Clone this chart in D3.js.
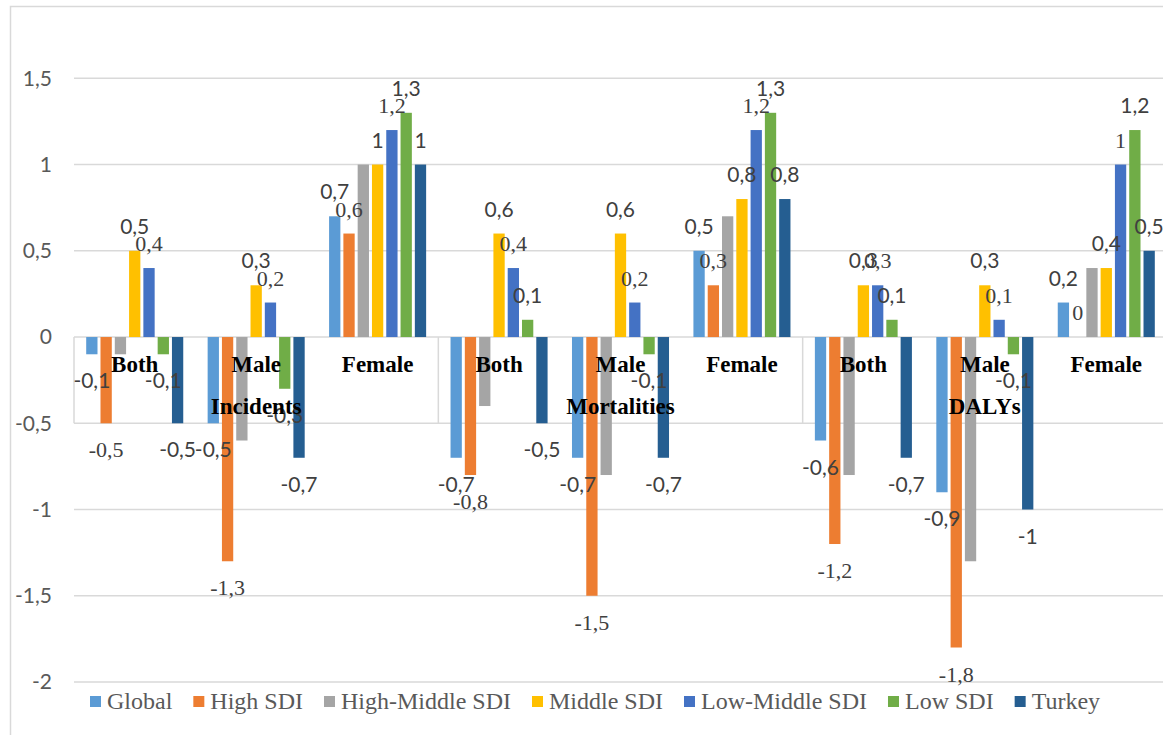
<!DOCTYPE html>
<html>
<head>
<meta charset="utf-8">
<script src="https://cdn.jsdelivr.net/npm/d3@7"></script>
<style>
  body { margin: 0; background: #ffffff; }
  svg { display: block; }
</style>
</head>
<body>
<svg id="chart" width="1163" height="735"></svg>
<script>
// Outer grouping and inner categories of the x axis
const measures = ["Incidents", "Mortalities", "DALYs"];
const sexes = ["Both", "Male", "Female"];

// Series, in legend order
const seriesNames = ["Global", "High SDI", "High-Middle SDI", "Middle SDI", "Low-Middle SDI", "Low SDI", "Turkey"];
const seriesColors = ["#5b9bd5", "#ed7d31", "#a5a5a5", "#ffc000", "#4472c4", "#70ad47", "#255e91"];

// Values per category: Incidents (Both, Male, Female), Mortalities (...), DALYs (...)
const globalValues       = [-0.1, -0.5, 0.7, -0.7, -0.7, 0.5, -0.6, -0.9, 0.2];
const highSDIValues      = [-0.5, -1.3, 0.6, -0.8, -1.5, 0.3, -1.2, -1.8, 0];
const highMiddleValues   = [-0.1, -0.6, 1.0, -0.4, -0.8, 0.7, -0.8, -1.3, 0.4];
const middleSDIValues    = [0.5, 0.3, 1.0, 0.6, 0.6, 0.8, 0.3, 0.3, 0.4];
const lowMiddleValues    = [0.4, 0.2, 1.2, 0.4, 0.2, 1.2, 0.3, 0.1, 1.0];
const lowSDIValues       = [-0.1, -0.3, 1.3, 0.1, -0.1, 1.3, 0.1, -0.1, 1.2];
const turkeyValues       = [-0.5, -0.7, 1.0, -0.5, -0.7, 0.8, -0.7, -1.0, 0.5];

const yTicks = [-2, -1.5, -1, -0.5, 0, 0.5, 1, 1.5];

// Series whose bars carry a value label, and the typeface each label uses
const labelled   = [true, true, false, true, true, true, true];
const labelSerif = [false, true, false, false, true, false, false];

const seriesValues = [globalValues, highSDIValues, highMiddleValues, middleSDIValues,
                      lowMiddleValues, lowSDIValues, turkeyValues];

const categories = [];
measures.forEach(m => sexes.forEach(s => categories.push({ key: m + "|" + s, measure: m, sex: s })));

const rows = categories.map((c, i) => ({
  key: c.key,
  values: seriesNames.map((name, j) => ({ name, j, value: seriesValues[j][i] }))
}));

const svg = d3.select("#chart");
const sansFont = "Lato, 'Open Sans', sans-serif";
const serifFont = "'Liberation Serif', 'Times New Roman', serif";
const gridColor = "#d9d9d9";
const fmt = v => String(+v.toFixed(2)).replace(".", ",");

// Chart border
svg.append("rect")
  .attr("x", 10.5).attr("y", 6.5)
  .attr("width", 1200).attr("height", 800)
  .attr("fill", "none").attr("stroke", gridColor).attr("stroke-width", 1.5);

const x0 = d3.scaleBand().domain(categories.map(c => c.key)).range([74, 1167]);
const x1 = d3.scaleBand().domain(seriesNames)
  .range([12.2, x0.bandwidth() - 12.2]).paddingInner(0.21);
const y = d3.scaleLinear().domain([-2, 1.5]).range([682, 78.3]);

// Horizontal gridlines
svg.append("g").selectAll("line").data(yTicks).join("line")
  .attr("x1", 74).attr("x2", 1167)
  .attr("y1", d => y(d)).attr("y2", d => y(d))
  .attr("stroke", gridColor).attr("stroke-width", 1.5);

// Y axis tick labels
const yAxis = d3.axisLeft(y).tickValues(yTicks).tickSize(0).tickPadding(0).tickFormat(fmt);
const yg = svg.append("g").attr("transform", "translate(52,0)").call(yAxis);
yg.select(".domain").remove();
yg.selectAll("text")
  .attr("font-family", sansFont).attr("font-size", 21).attr("fill", "#595959");

// Group separators of the multi-level category axis
const groupEdges = [0, 3, 6, 9].map(i => i < 9 ? x0(categories[i].key) : x0(categories[8].key) + x0.bandwidth());
svg.append("g").selectAll("line").data(groupEdges).join("line")
  .attr("x1", d => d).attr("x2", d => d)
  .attr("y1", y(0)).attr("y2", y(-0.5))
  .attr("stroke", gridColor).attr("stroke-width", 1.5);

// Bars
const groups = svg.append("g").selectAll("g").data(rows).join("g")
  .attr("transform", d => `translate(${x0(d.key)},0)`);

groups.selectAll("rect").data(d => d.values).join("rect")
  .attr("x", d => x1(d.name))
  .attr("width", x1.bandwidth())
  .attr("y", d => y(Math.max(0, d.value)))
  .attr("height", d => Math.abs(y(d.value) - y(0)))
  .attr("fill", d => seriesColors[d.j]);

// Value labels
groups.selectAll("text.value").data(d => d.values.filter(v => labelled[v.j])).join("text")
  .attr("class", "value")
  .attr("x", d => x1(d.name) + x1.bandwidth() / 2)
  .attr("y", d => d.value >= 0 ? y(d.value) - 17 : y(d.value) + 34)
  .attr("text-anchor", "middle")
  .attr("font-family", d => labelSerif[d.j] ? serifFont : sansFont)
  .attr("font-size", d => labelSerif[d.j] ? 22 : 21)
  .attr("fill", "#404040")
  .text(d => fmt(d.value));

// Inner category labels
svg.append("g").selectAll("text").data(categories).join("text")
  .attr("x", d => x0(d.key) + x0.bandwidth() / 2)
  .attr("y", 372)
  .attr("text-anchor", "middle")
  .attr("font-family", serifFont).attr("font-weight", "bold").attr("font-size", 23)
  .attr("fill", "#000")
  .text(d => d.sex);

// Outer group labels
svg.append("g").selectAll("text").data(measures).join("text")
  .attr("x", m => x0(m + "|Male") + x0.bandwidth() / 2)
  .attr("y", 414)
  .attr("text-anchor", "middle")
  .attr("font-family", serifFont).attr("font-weight", "bold").attr("font-size", 23)
  .attr("fill", "#000")
  .text(m => m);

// Legend
const legend = svg.append("g");
let lx = 90;
seriesNames.forEach((name, j) => {
  const item = legend.append("g").attr("transform", `translate(${lx},0)`);
  item.append("rect").attr("x", 0).attr("y", 696).attr("width", 11).attr("height", 11)
    .attr("fill", seriesColors[j]);
  const t = item.append("text").attr("x", 17).attr("y", 709)
    .attr("font-family", serifFont).attr("font-size", 24).attr("fill", "#595959")
    .text(name);
  lx += 17 + t.node().getComputedTextLength() + 21;
});
</script>
</body>
</html>
